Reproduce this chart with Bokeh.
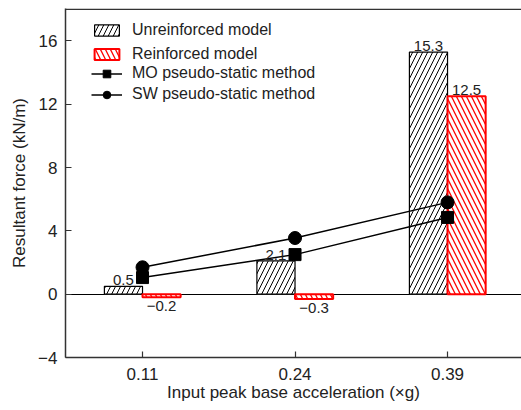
from bokeh.plotting import figure
from bokeh.models import FixedTicker, ColumnDataSource, LabelSet, Legend, Span
from bokeh.embed import file_html
from bokeh.resources import INLINE
from bokeh.core.properties import value

categories = ["0.11", "0.24", "0.39"]
unreinforced = [0.5, 2.1, 15.3]
reinforced = [-0.2, -0.3, 12.5]
unreinforced_labels = ["0.5", "2.1", "15.3"]
reinforced_labels = ["\u22120.2", "\u22120.3", "12.5"]
mo_values = [1.05, 2.5, 4.85]
sw_values = [1.7, 3.55, 5.8]
y_ticks = [-4, 0, 4, 8, 12, 16]
baseline = [0]

FONT = "Liberation Sans"
TXT = "#222222"
AX = "#333333"

xc = list(range(len(categories)))
bw = 0.25
x_un = [x - bw / 2 for x in xc]
x_re = [x + bw / 2 for x in xc]

p = figure(width=521, height=410, output_backend="svg", toolbar_location=None,
           x_range=(-0.505, 2.485), y_range=(-4, 18.05),
           min_border_left=65, min_border_right=0, min_border_top=8, min_border_bottom=53)
p.outline_line_color = None
p.border_fill_color = "white"
p.grid.visible = False
p.background_fill_color = "white"

# zero line
p.hspan(y=baseline, line_color="black", line_width=1.2)

src_un = ColumnDataSource(dict(x=x_un, top=unreinforced))
src_re = ColumnDataSource(dict(x=x_re, top=reinforced))

r_un = p.vbar(x="x", top="top", bottom=0, width=bw, source=src_un, fill_color="white",
              line_color="black", line_width=1.2, hatch_pattern="right_diagonal_line",
              hatch_color="black", hatch_scale=10, hatch_weight=1)
r_re = p.vbar(x="x", top="top", bottom=0, width=bw, source=src_re, fill_color="white",
              line_color="#ff0000", line_width=2, hatch_pattern="left_diagonal_line",
              hatch_color="#ff0000", hatch_scale=10, hatch_weight=1.3)

l_mo = p.line(xc, mo_values, line_color="black", line_width=1.5)
s_mo = p.scatter(xc, mo_values, marker="square", size=12, fill_color="black", line_color="black")
l_sw = p.line(xc, sw_values, line_color="black", line_width=1.5)
s_sw = p.scatter(xc, sw_values, marker="circle", size=13, fill_color="black", line_color="black")

lab_kw = dict(text_align="center", text_font=value(FONT), text_font_size="15px", text_color=TXT)
src_un_pos = ColumnDataSource(dict(x=x_un, y=unreinforced, lab=unreinforced_labels))
p.add_layout(LabelSet(x="x", y="y", text="lab", source=src_un_pos,
                      text_baseline="bottom", y_offset=1, **lab_kw))
src_re_pos = ColumnDataSource(dict(x=[x for x, v in zip(x_re, reinforced) if v > 0],
                                   y=[v for v in reinforced if v > 0],
                                   lab=[l for l, v in zip(reinforced_labels, reinforced) if v > 0]))
p.add_layout(LabelSet(x="x", y="y", text="lab", source=src_re_pos,
                      text_baseline="bottom", y_offset=1, **lab_kw))
src_re_neg = ColumnDataSource(dict(x=[x for x, v in zip(x_re, reinforced) if v <= 0],
                                   y=[v for v in reinforced if v <= 0],
                                   lab=[l for l, v in zip(reinforced_labels, reinforced) if v <= 0]))
p.add_layout(LabelSet(x="x", y="y", text="lab", source=src_re_neg,
                      text_baseline="top", y_offset=-4, **lab_kw))

# top border line
p.add_layout(Span(location=18, dimension="width", line_color=AX, line_width=1.5))

xa = p.below[0]
ya = p.left[0]
xa.ticker = FixedTicker(ticks=xc)
xa.major_label_overrides = {i: c for i, c in enumerate(categories)}
xa.axis_label = "Input peak base acceleration (\u00d7g)"
ya.ticker = FixedTicker(ticks=y_ticks)
ya.major_label_overrides = {t: (str(t) if t >= 0 else "\u2212" + str(-t)) for t in y_ticks}
ya.axis_label = "Resultant force (kN/m)"
for ax in (xa, ya):
    ax.axis_line_color = AX
    ax.axis_line_width = 1.5
    ax.major_tick_line_color = AX
    ax.major_tick_line_width = 1.2
    ax.major_tick_in = 6
    ax.major_tick_out = 0
    ax.minor_tick_line_color = None
    ax.major_label_text_font = FONT
    ax.major_label_text_font_size = "17px"
    ax.major_label_text_color = TXT
    ax.axis_label_text_font = FONT
    ax.axis_label_text_font_size = "17px"
    ax.axis_label_text_font_style = "normal"
    ax.axis_label_text_color = TXT
xa.major_label_standoff = 10
xa.axis_label_standoff = 0
ya.major_label_standoff = 8
ya.axis_label_standoff = 6


def style_legend(leg, gh, sp):
    leg.background_fill_alpha = 0
    leg.border_line_color = None
    leg.label_text_font = FONT
    leg.label_text_font_size = "16px"
    leg.label_text_color = TXT
    leg.glyph_width = 31
    leg.glyph_height = gh
    leg.label_height = 20
    leg.spacing = sp
    leg.label_standoff = 10
    leg.margin = 0
    leg.padding = 0


leg1 = Legend(items=[("Unreinforced model", [r_un]), ("Reinforced model", [r_re])],
              location=(26, 293))
style_legend(leg1, 14, 4)
leg2 = Legend(items=[("MO pseudo-static method", [l_mo, s_mo]),
                     ("SW pseudo-static method", [l_sw, s_sw])],
              location=(26, 253))
style_legend(leg2, 19, 1)
p.add_layout(leg1)
p.add_layout(leg2)

open("out.html", "w").write(file_html(p, INLINE))
